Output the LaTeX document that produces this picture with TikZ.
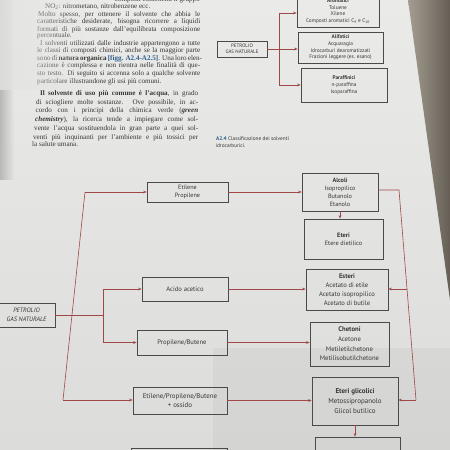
\documentclass[tikz,border=0pt]{standalone}
\usepackage{fontspec}
\setmainfont{Liberation Serif}
\newfontfamily\diag{PT Sans}
\usetikzlibrary{arrows.meta,fadings}
\definecolor{page}{HTML}{E3E3E1}
\definecolor{pagetop}{HTML}{EAEAE8}
\definecolor{pagebot}{HTML}{DCDCDA}
\definecolor{ink}{HTML}{363636}
\definecolor{boxc}{HTML}{4A4A4A}
\definecolor{link}{HTML}{A04848}
\definecolor{figblue}{HTML}{2F5F8F}
\definecolor{edgelight}{HTML}{A59D91}
\definecolor{edgedark}{HTML}{645E55}
\tikzfading[name=fadeR, left color=transparent!0, right color=transparent!100]
\newcommand{\jl}[2]{\makebox[#1pt][s]{#2}}
\begin{document}
\begin{tikzpicture}[x=1pt,y=-1pt,
  bx/.style={draw=boxc, line width=0.7pt, inner sep=0pt, align=center, text=ink},
  fA/.style={font=\diag\fontsize{6.2}{7.9}\selectfont},
  fB/.style={font=\diag\fontsize{6.6}{9}\selectfont},
  fC/.style={font=\diag\fontsize{6.9}{9.8}\selectfont},
  sbx/.style={bx, line width=0.6pt, font=\diag\fontsize{5.3}{6.7}\selectfont},
  lk/.style={draw=link, line width=0.6pt},
  ar/.style={lk, -{Stealth[length=3.6pt,width=2.8pt]}},
  bodyline/.style={anchor=base west, inner sep=0pt, text=ink, font=\fontsize{7.1}{8}\selectfont},
  captxt/.style={anchor=base west, inner sep=0pt, text=ink, font=\diag\fontsize{5.3}{6.5}\selectfont}
]
\useasboundingbox (0,0) rectangle (450,450);
\clip (0,0) rectangle (450,450);
% page background
\shade[top color=pagetop, bottom color=pagebot] (0,0) rectangle (450,450);
\fill[black, opacity=0.035] (213,348) rectangle (450,450);
\fill[gray!55, path fading=fadeR] (0,0) rectangle (14,180);

% ---------- body text ----------
\node[bodyline, anchor=base east] (t1) at (200,1.5) {composti contenenti il gruppo};
\node[bodyline] (t2) at (45,8.5) {NO\textsubscript{2}: nitrometano, nitrobenzene ecc.};
\node[bodyline] (t3) at (38,16) {\jl{162}{Molto spesso, per ottenere il solvente che abbia le}};
\node[bodyline] (t4) at (37,23.5) {\jl{163}{caratteristiche desiderate, bisogna ricorrere a liquidi}};
\node[bodyline] (t5) at (37,31) {\jl{163}{formati di più sostanze dall'equilibrata composizione}};
\node[bodyline] (t6) at (37,37.5) {percentuale.};
\node[bodyline] (t7) at (40,45) {\jl{160}{I solventi utilizzati dalle industrie appartengono a tutte}};
\node[bodyline] (t8) at (37,52.5) {\jl{163}{le classi di composti chimici, anche se la maggior parte}};
\node[bodyline] (t9) at (37,60) {\jl{163}{sono di \textbf{natura organica} \textcolor{figblue}{\textbf{[figg. A2.4-A2.5]}}. Una loro elen-}};
\node[bodyline] (t10) at (37,67.5) {\jl{163}{cazione è complessa e non rientra nelle finalità di que-}};
\node[bodyline] (t11) at (37,75) {\jl{163}{sto testo. Di seguito si accenna solo a qualche solvente}};
\node[bodyline] (t12) at (37,83) {particolare illustrandone gli usi più comuni.};
\node[bodyline] (t13) at (40,95.5) {\jl{158}{\textbf{Il solvente di uso più comune è l'acqua}, in grado}};
\node[bodyline] (t14) at (36,104) {\jl{162}{di sciogliere molte sostanze. Ove possibile, in ac-}};
\node[bodyline] (t15) at (35.5,112.5) {\jl{162.5}{cordo con i principi della chimica verde (\textbf{\textit{green}}}};
\node[bodyline] (t16) at (35,121.5) {\jl{163}{\textbf{\textit{chemistry}}), la ricerca tende a impiegare come sol-}};
\node[bodyline] (t17) at (34,130.5) {\jl{164}{vente l'acqua sostituendola in gran parte a quei sol-}};
\node[bodyline] (t18) at (33,139.5) {\jl{165}{venti più inquinanti per l'ambiente e più tossici per}};
\node[bodyline] (t19) at (32,146.5) {la salute umana.};
\fill[page, opacity=0.8, path fading=fadeR] (0,0) rectangle (85,90);

% ---------- small diagram ----------
\node[sbx, minimum width=50pt, minimum height=16pt, font=\diag\fontsize{5}{6.3}\selectfont] (tpg) at (242,49) {PETROLIO\\GAS NATURALE};
\node[sbx, minimum width=82pt, minimum height=32pt] (aro) at (338,11) {\textbf{Aromatici}\\Toluene\\Xilene\\Composti aromatici C\textsubscript{9} e C\textsubscript{10}};
\node[sbx, minimum width=85pt, minimum height=31pt] (ali) at (340.5,47.5) {\textbf{Alifatici}\\Acquaragia\\Idrocarburi dearomatizzati\\Frazioni leggere (es. esano)};
\node[sbx, minimum width=86pt, minimum height=34pt] (par) at (344,85) {\textbf{Paraffinici}\\n-paraffina\\Isoparaffina};
\coordinate (tj) at (279,49);
\coordinate (tt) at (279,13);
\coordinate (tb) at (279,85);
\draw[lk] (tpg.east) -- (tj);
\draw[lk] (tt) -- (tb);
\draw[ar] (tt) -- (tt -| aro.west);
\draw[ar] (tj) -- (tj -| ali.west);
\draw[ar] (tb) -- (tb -| par.west);
\node[captxt] (c1) at (216,140) {\textcolor{figblue}{\textbf{A2.4}} Classificazione dei solventi};
\node[captxt] (c2) at (215.5,147.5) {idrocarburici.};

% ---------- main diagram ----------
\node[bx, minimum width=57pt, minimum height=24pt, font=\diag\itshape\fontsize{6.3}{8.6}\selectfont] (pg) at (26.5,315) {PETROLIO\\GAS NATURALE};
\node[bx, fA, minimum width=81pt, minimum height=20pt] (eti) at (187.5,192) {Etilene\\Propilene};
\node[bx, fB, minimum width=86pt, minimum height=24pt] (aci) at (185,289) {Acido acetico};
\node[bx, fB, minimum width=90pt, minimum height=25pt] (pro) at (182,342.5) {Propilene/Butene};
\node[bx, fC, minimum width=94pt, minimum height=27pt] (epb) at (180,400.5) {Etilene/Propilene/Butene\\+ ossido};
\node[bx, minimum width=96pt, minimum height=22pt] (blb) at (179,459) {};
\node[bx, fA, minimum width=76pt, minimum height=38pt] (alc) at (340,192) {\textbf{Alcoli}\\Isopropilico\\Butanolo\\Etanolo};
\node[bx, minimum width=79pt, minimum height=40pt, font=\diag\fontsize{6.3}{8.4}\selectfont] (ete) at (343.5,239) {\textbf{Eteri}\\Etere dietilico};
\node[bx, fB, minimum width=82pt, minimum height=41pt] (est) at (347,289.5) {\textbf{Esteri}\\Acetato di etile\\Acetato isopropilico\\Acetato di butile};
\node[bx, minimum width=79pt, minimum height=44pt, font=\diag\fontsize{6.7}{9.6}\selectfont] (che) at (349.5,344) {\textbf{Chetoni}\\Acetone\\Metiletilchetone\\Metilisobutilchetone};
\node[bx, minimum width=86pt, minimum height=48pt, font=\diag\fontsize{7}{10.1}\selectfont] (egl) at (355,401) {\textbf{Eteri glicolici}\\Metossipropanolo\\Glicol butilico};
\node[bx, minimum width=85pt, minimum height=33pt, font=\diag\bfseries\fontsize{7}{10}\selectfont] (brb) at (357.5,453.5) {Esteri di eteri glicolici};

\coordinate (j) at (103,315);
\coordinate (ja) at (103,289);
\coordinate (jb) at (103,342.5);
\coordinate (lt) at (85,192);
\coordinate (lb) at (63,400);
\coordinate (rt) at (399,190);
\coordinate (rb) at (416,400);
\coordinate (rm) at (407,289);

\draw[lk] (pg.east) -- (j);
\draw[lk] (ja) -- (jb);
\draw[ar] (ja) -- (aci.west);
\draw[ar] (jb) -- (pro.west);
\draw[lk] (lt) -- (lb);
\draw[ar] (lt) -- (eti.west);
\draw[ar] (lb) -- (lb -| epb.west);
\draw[ar] (eti.east) -- (alc.west);
\draw[ar] (aci.east) -- (aci.east -| est.west);
\draw[ar] (pro.east) -- (pro.east -| che.west);
\draw[ar] (epb.east) -- (epb.east -| egl.west);
\draw[ar] (alc.south) -- (alc.south |- ete.north);
\draw[lk] (rt -| alc.east) -- (rt) -- (rb);
\draw[ar] (rm) -- (rm -| est.east);
\draw[ar] (rb) -- (rb -| egl.east);
\draw[ar] (egl.south) -- (egl.south |- brb.north);

% ---------- page edge ----------
\shade[left color=edgelight, right color=edgedark] (408,0) -- (450,0) -- (450,300) -- cycle;
\end{tikzpicture}
\end{document}
